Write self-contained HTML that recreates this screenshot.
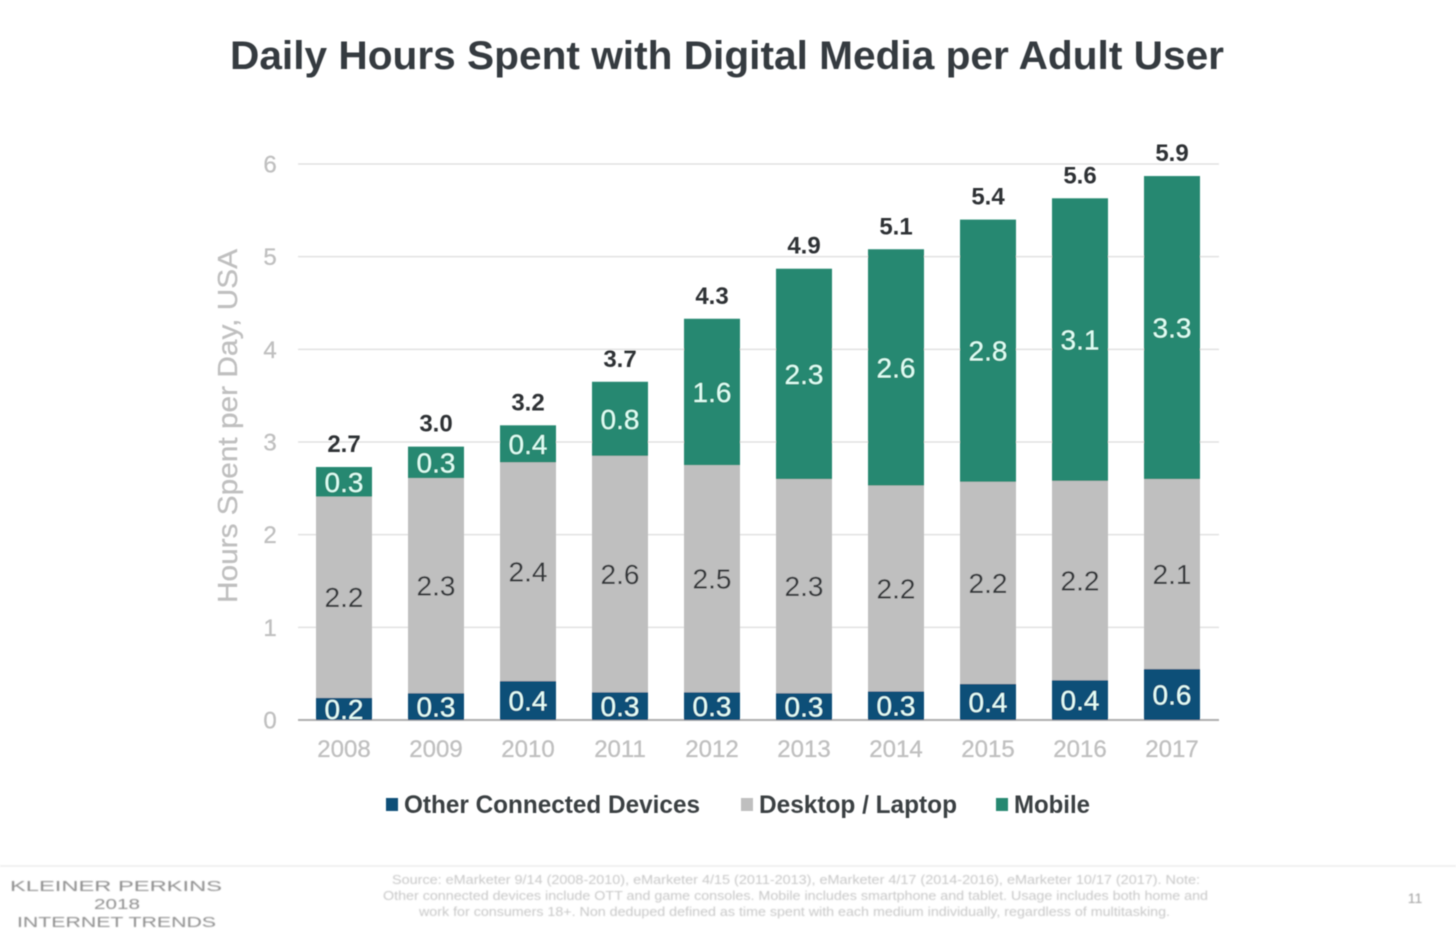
<!DOCTYPE html>
<html lang="en">
<head>
<meta charset="utf-8">
<title>Daily Hours Spent with Digital Media per Adult User</title>
<style>
html,body{margin:0;padding:0;background:#fff;width:1456px;height:942px;overflow:hidden}
svg{display:block;font-family:"Liberation Sans",sans-serif}
</style>
</head>
<body>
<svg id="chart" xmlns="http://www.w3.org/2000/svg" width="1456" height="942" viewBox="0 0 1456 942">
  <defs>
    <filter id="soft" x="-5%" y="-5%" width="110%" height="110%"><feGaussianBlur stdDeviation="0.55"/></filter>
    <filter id="softer" x="-5%" y="-5%" width="110%" height="110%"><feGaussianBlur stdDeviation="0.8"/></filter>
    <clipPath id="plot-clip"><rect x="290" y="100" width="940" height="620"/></clipPath>
  </defs>
  <rect width="1456" height="942" fill="#ffffff"/>
  <g id="main" filter="url(#soft)">
    <text x="230" y="69" font-size="40" font-weight="700" fill="#363b3f" textLength="994" lengthAdjust="spacingAndGlyphs">Daily Hours Spent with Digital Media per Adult User</text>
    <text transform="translate(237,603) rotate(-90)" font-size="28" fill="#c0c0c0" stroke="#c0c0c0" stroke-width="0.3" textLength="354" lengthAdjust="spacingAndGlyphs">Hours Spent per Day, USA</text>
    <g id="grid"></g>
    <g id="y-ticks"></g>
    <g id="bars"></g>
    <g id="x-ticks"></g>
    <g id="legend">
      <g>
        <rect x="386" y="798" width="12" height="13" fill="#0f5078"/>
        <text x="404" y="813" font-size="25" font-weight="700" fill="#3a3f43" textLength="296" lengthAdjust="spacingAndGlyphs">Other Connected Devices</text>
      </g>
      <g>
        <rect x="741" y="798" width="12" height="13" fill="#bfbfbf"/>
        <text x="759" y="813" font-size="25" font-weight="700" fill="#3a3f43" textLength="198" lengthAdjust="spacingAndGlyphs">Desktop / Laptop</text>
      </g>
      <g>
        <rect x="996" y="798" width="12" height="13" fill="#258871"/>
        <text x="1014" y="813" font-size="25" font-weight="700" fill="#3a3f43" textLength="76" lengthAdjust="spacingAndGlyphs">Mobile</text>
      </g>
    </g>
  </g>
  <g id="footer" filter="url(#softer)">
    <rect x="0" y="865" width="1456" height="2" fill="#f0f0f0"/>
    <g fill="#8f8f8f" font-size="15">
      <text x="10" y="891" textLength="212" lengthAdjust="spacingAndGlyphs">KLEINER PERKINS</text>
      <text x="94" y="909" textLength="46" lengthAdjust="spacingAndGlyphs">2018</text>
      <text x="17" y="927" textLength="199" lengthAdjust="spacingAndGlyphs">INTERNET TRENDS</text>
    </g>
    <g fill="#c8c8c8" font-size="12.5">
      <text x="392" y="884" textLength="808" lengthAdjust="spacingAndGlyphs">Source: eMarketer 9/14 (2008-2010), eMarketer 4/15 (2011-2013), eMarketer 4/17 (2014-2016), eMarketer 10/17 (2017). Note:</text>
      <text x="383" y="900" textLength="825" lengthAdjust="spacingAndGlyphs">Other connected devices include OTT and game consoles. Mobile includes smartphone and tablet. Usage includes both home and</text>
      <text x="419" y="916" textLength="751" lengthAdjust="spacingAndGlyphs">work for consumers 18+. Non deduped defined as time spent with each medium individually, regardless of multitasking.</text>
    </g>
    <text x="1415" y="903" font-size="14" fill="#a0a0a0" text-anchor="middle">11</text>
  </g>
  <script>
    var categories = ['2008','2009','2010','2011','2012','2013','2014','2015','2016','2017'];
    var otherValues = [0.24,0.29,0.42,0.30,0.30,0.29,0.31,0.39,0.43,0.55];
    var desktopValues = [2.17,2.32,2.36,2.55,2.45,2.31,2.22,2.18,2.15,2.05];
    var mobileValues = [0.32,0.34,0.40,0.80,1.58,2.27,2.55,2.83,3.05,3.27];
    var otherLabels = ['0.2','0.3','0.4','0.3','0.3','0.3','0.3','0.4','0.4','0.6'];
    var desktopLabels = ['2.2','2.3','2.4','2.6','2.5','2.3','2.2','2.2','2.2','2.1'];
    var mobileLabels = ['0.3','0.3','0.4','0.8','1.6','2.3','2.6','2.8','3.1','3.3'];
    var totalLabels = ['2.7','3.0','3.2','3.7','4.3','4.9','5.1','5.4','5.6','5.9'];
    var yTickValues = [0,1,2,3,4,5,6];

    var NS = 'http://www.w3.org/2000/svg';
    function yScale(v) { return 720 - v * (556 / 6); }
    function xScale(i) { return 344 + i * 92; }
    var BAR_WIDTH = 56;

    function make(parent, tag, attrs, text) {
      var el = document.createElementNS(NS, tag);
      for (var k in attrs) { el.setAttribute(k, attrs[k]); }
      if (text !== undefined) { el.textContent = text; }
      parent.appendChild(el);
      return el;
    }

    var gridG = document.getElementById('grid');
    var yG = document.getElementById('y-ticks');
    yTickValues.forEach(function (t) {
      var line = make(gridG, 'line', {x1: 298, x2: 1219, y1: yScale(t), y2: yScale(t), stroke: t === 0 ? '#b0b0b0' : '#e2e2e2', 'stroke-width': t === 0 ? 2 : 1.5});
      
      
      var label = make(yG, 'text', {x: 270, y: yScale(t) + 8.5, 'font-size': 24, fill: '#c0c0c0', stroke: '#c0c0c0', 'stroke-width': 0.3, 'text-anchor': 'middle'}, String(t));
      
      
    });

    var barsG = document.getElementById('bars');
    var xG = document.getElementById('x-ticks');
    function segment(i, start, value, fill, labelText, textFill, name) {
      var top = yScale(start + value);
      var bottom = yScale(start);
      var rect = make(barsG, 'rect', {x: xScale(i) - BAR_WIDTH / 2, y: top, width: BAR_WIDTH, height: bottom - top, fill: fill});
      
      
      var label = make(barsG, 'text', {x: xScale(i), y: (top + bottom) / 2 + 10, 'font-size': 28, fill: textFill, 'text-anchor': 'middle', 'clip-path': 'url(#plot-clip)'}, labelText);
      
      
    }
    categories.forEach(function (cat, i) {
      var o = otherValues[i], d = desktopValues[i], m = mobileValues[i];
      segment(i, 0, o, '#0f5078', otherLabels[i], '#e6fff8', 'other');
      segment(i, o, d, '#bfbfbf', desktopLabels[i], '#34373a', 'desktop');
      segment(i, o + d, m, '#258871', mobileLabels[i], '#e0fff5', 'mobile');
      var total = make(barsG, 'text', {x: xScale(i), y: yScale(o + d + m) - 15, 'font-size': 24, 'font-weight': 700, fill: '#2f3235', 'text-anchor': 'middle'}, totalLabels[i]);
      
      
      var tick = make(xG, 'text', {x: xScale(i), y: 757, 'font-size': 24, fill: '#c0c0c0', stroke: '#c0c0c0', 'stroke-width': 0.3, 'text-anchor': 'middle'}, cat);
      
      
    });
  </script>
</svg>
</body>
</html>
